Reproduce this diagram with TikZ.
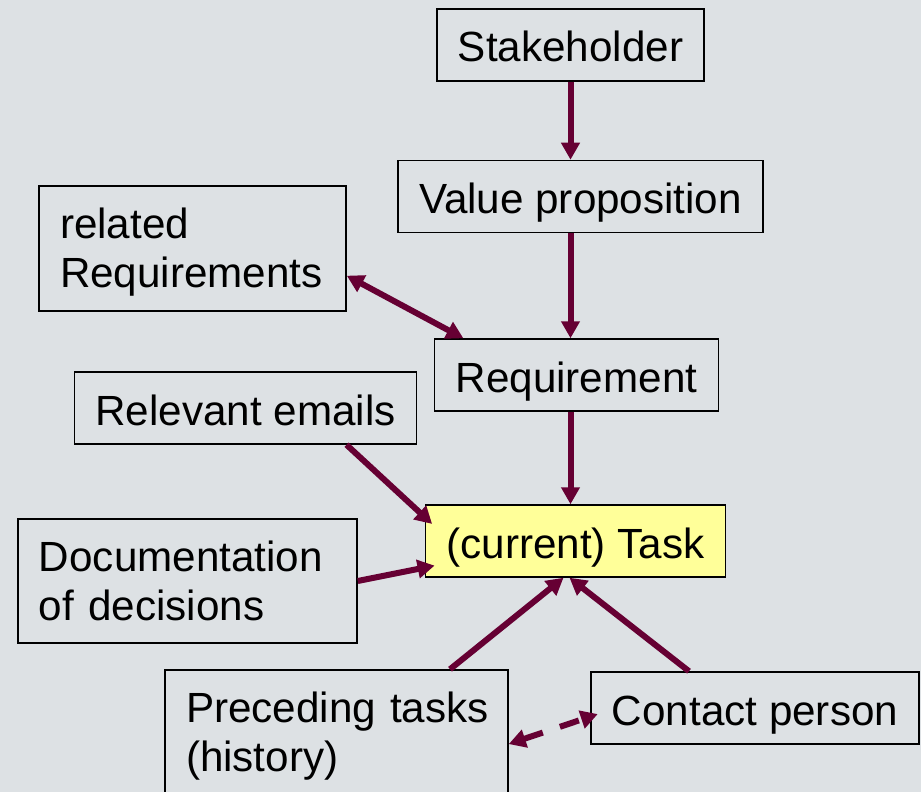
\documentclass[tikz,border=0pt]{standalone}
\usepackage{fontspec}
\setmainfont{Liberation Sans}
\usetikzlibrary{arrows.meta}
\definecolor{slidebg}{RGB}{221,225,228}
\definecolor{linkred}{RGB}{102,0,51}
\definecolor{taskyellow}{RGB}{255,255,153}
\tikzset{
    twoline/.style={align=left, text height=15pt, text depth=25pt}
}
\begin{document}
\begin{tikzpicture}[x=0.5pt, y=-0.5pt]
    \clip (0,0) rectangle (921,792);
    \fill[slidebg] (0,0) rectangle (921,792);

    \begin{scope}[every node/.style={draw, line width=0.75pt, inner xsep=10.5pt, inner ysep=0pt,
        minimum height=36pt, text height=19pt, text depth=2pt, font=\fontsize{21.1}{24.5}\selectfont}]
        \node (stake) at (570.5,45) {Stakeholder};
        \node (value) at (580.5,196.5) {Value proposition};
        \node (req) at (576.5,375) {Requirement};
        \node (mail) at (245.5,408) {Relevant emails};
        \node[fill=taskyellow] (task) at (575.5,541) {(current) Task};
        \node (contact) at (755,708) {Contact person};
        \node[twoline, text width=132.5pt, minimum height=62.5pt] (rel) at (192.5,248.5) {related\\Requirements};
        \node[twoline, text width=148.5pt, minimum height=62pt] (doc) at (187.5,581) {Documentation\\of decisions};
        \node[twoline, text width=150.5pt, minimum height=62pt] (prec) at (336.5,732) {Preceding~tasks\\(history)};
    \end{scope}

    \begin{scope}[every edge/.style={draw, linkred, line width=3pt}, >={Triangle[length=8.5pt, width=9pt]}]
        \path [->] (stake.south) edge (stake.south |- value.north);
        \path [->] (value.south -| stake.south) edge (req.north -| stake.south);
        \path [->] (req.south -| stake.south) edge (task.north -| stake.south);
        \path [<->] (rel.-10.5) edge (req.162);
        \path [->, shorten >=-5pt] (mail.-20.3) edge (task.171);
        \path [->, shorten >=-5pt] (doc.east) edge (task.190.7);
        \path [->] ([xshift=56.75pt]prec.north) edge ([xshift=-6pt]task.south);
        \path [->] ([xshift=-33pt]contact.north) edge ([xshift=-3pt]task.south);
        \path [<->, shorten >=-4pt, dash pattern=on 10pt off 9pt] (prec.-4.3) edge (contact.183);
    \end{scope}
\end{tikzpicture}
\end{document}
